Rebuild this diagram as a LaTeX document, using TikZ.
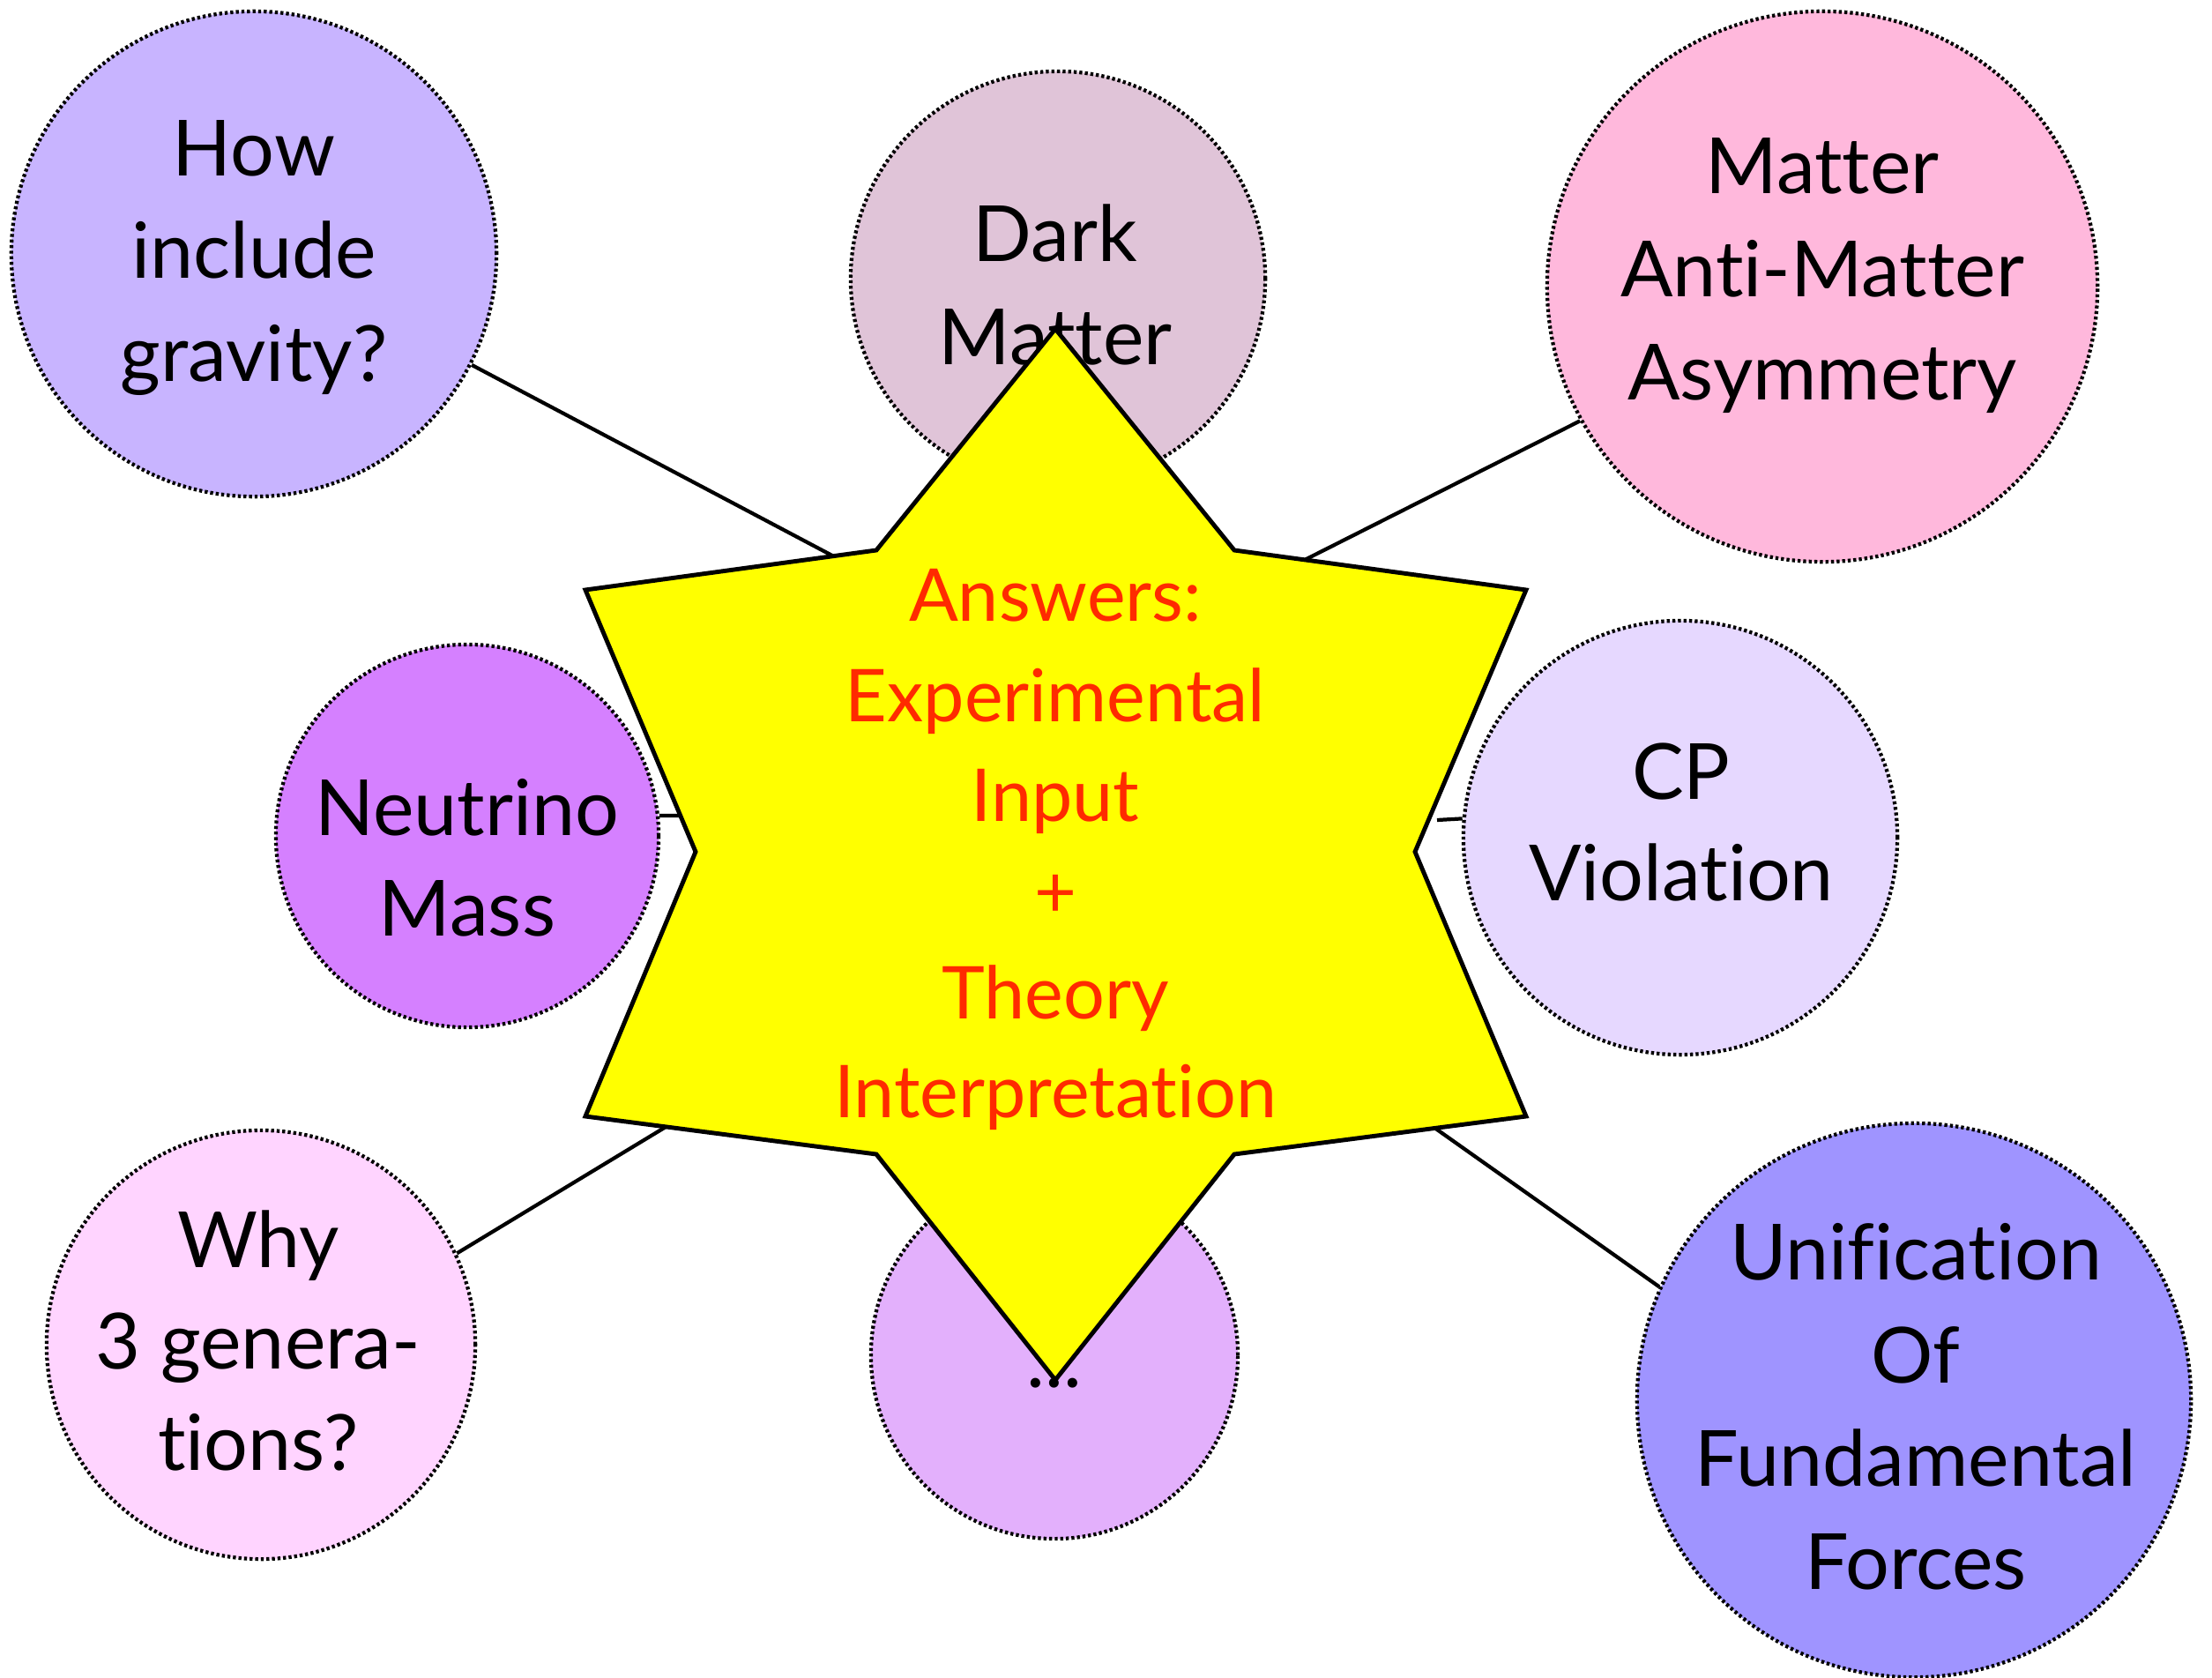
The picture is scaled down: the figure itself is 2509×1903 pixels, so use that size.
\documentclass[tikz,border=0pt]{standalone}
\usepackage{fontspec}
\setmainfont[Ligatures=NoCommon]{Lato}
\newcommand\nlg{\kern0pt }
\definecolor{cgrav}{HTML}{C8B4FF}
\definecolor{cdark}{HTML}{E0C4D8}
\definecolor{cmatter}{HTML}{FFB8DC}
\definecolor{cneu}{HTML}{D580FF}
\definecolor{ccp}{HTML}{E6D8FF}
\definecolor{cwhy}{HTML}{FFD4FF}
\definecolor{cdots}{HTML}{E3B0FC}
\definecolor{cunif}{HTML}{9F94FF}
\definecolor{staryellow}{HTML}{FFFF00}
\definecolor{ansred}{HTML}{FF2A00}
\tikzset{
  bub/.style={circle, draw=black, line width=1.2pt, dash pattern=on 0.95pt off 0.85pt, minimum size=#1, inner sep=0pt},
  lbl/.style={anchor=base, font=\fontsize{25}{30}\selectfont, text=black, inner sep=0pt},
  rlbl/.style={anchor=base, font=\fontsize{23.5}{28}\selectfont, text=ansred, inner sep=0pt},
  conn/.style={line width=1.2pt, draw=black},
  starline/.style={draw=black, fill=staryellow, line width=1.4pt, line join=miter}
}
\begin{document}
\begin{tikzpicture}[x=0.01cm,y=-0.01cm]
\useasboundingbox (0,0) rectangle (2509,1903);
% connector ends inside the star
\coordinate (sg) at (959,638);
\coordinate (sm) at (1462,644);
\coordinate (sn) at (800,925);
\coordinate (scp) at (1630,930);
\coordinate (sw) at (770,1269);
\coordinate (su) at (1613,1269);
% circles
\node[bub=5.5cm, fill=cgrav] (grav) at (288,288) {};
\node[bub=4.7cm, fill=cdark] (dark) at (1200,316) {};
\node[bub=6.24cm, fill=cmatter] (matter) at (2067,325) {};
\node[bub=4.34cm, fill=cneu] (neu) at (530,948) {};
\node[bub=4.92cm, fill=ccp] (cp) at (1906,950) {};
\node[bub=4.86cm, fill=cwhy] (why) at (296,1525) {};
\node[bub=4.16cm, fill=cdots] (dots) at (1196,1537) {};
\node[bub=6.28cm, fill=cunif] (unif) at (2171,1588) {};
% connectors
\draw[conn] (grav.-27) -- (sg);
\draw[conn] (matter.-151) -- (sm);
\draw[conn] (neu.6) -- (sn);
\draw[conn] (cp.175) -- (scp);
\draw[conn] (why.25) -- (sw);
\draw[conn] (unif.156) -- (su);
% circle texts
\node[lbl] (g1) at (288,200) {How};
\node[lbl] (g2) at (288,315) {include};
\node[lbl] (g3) at (288,432) {gravity?};
\node[lbl] (d1) at (1197,296) {Dark};
\node[lbl] (d2) at (1197,413) {Mat\nlg ter};
\node[lbl] (m1) at (2067,219) {Mat\nlg ter};
\node[lbl] (m2) at (2067,336) {Anti-Mat\nlg ter};
\node[lbl] (m3) at (2067,453) {Asymmetry};
\node[lbl] (n1) at (530,947) {Neutrino};
\node[lbl] (n2) at (530,1061) {Mass};
\node[lbl] (c1) at (1907,906) {CP};
\node[lbl] (c2) at (1907,1021) {Violat\nlg ion};
\node[lbl] (w1) at (293,1437) {Why};
\node[lbl] (w2) at (293,1552) {3 genera-};
\node[lbl] (w3) at (293,1667) {t\nlg ions?};
\node[lbl] (u1) at (2173,1451) {Unif\nlg icat\nlg ion};
\node[lbl] (u2) at (2173,1568) {Of};
\node[lbl] (u3) at (2173,1685) {Fundamental};
\node[lbl] (u4) at (2173,1802) {Forces};
\node[lbl] (e1) at (1196,1573) {...};
% star
\draw[starline] (1197,373) -- (1400,624) -- (1731,669) -- (1605,966) -- (1731,1266)
  -- (1400,1309) -- (1197,1565) -- (994,1309) -- (664,1266) -- (789,966)
  -- (664,669) -- (994,624) -- cycle;
% star texts
\node[rlbl] (a1) at (1197,704) {Answers:};
\node[rlbl] (a2) at (1197,818) {Experimental};
\node[rlbl] (a3) at (1197,931) {Input};
\node[rlbl] (a4) at (1197,1040) {+};
\node[rlbl] (a5) at (1197,1155) {Theory};
\node[rlbl] (a6) at (1197,1267) {Interpretat\nlg ion};
\end{tikzpicture}
\end{document}
